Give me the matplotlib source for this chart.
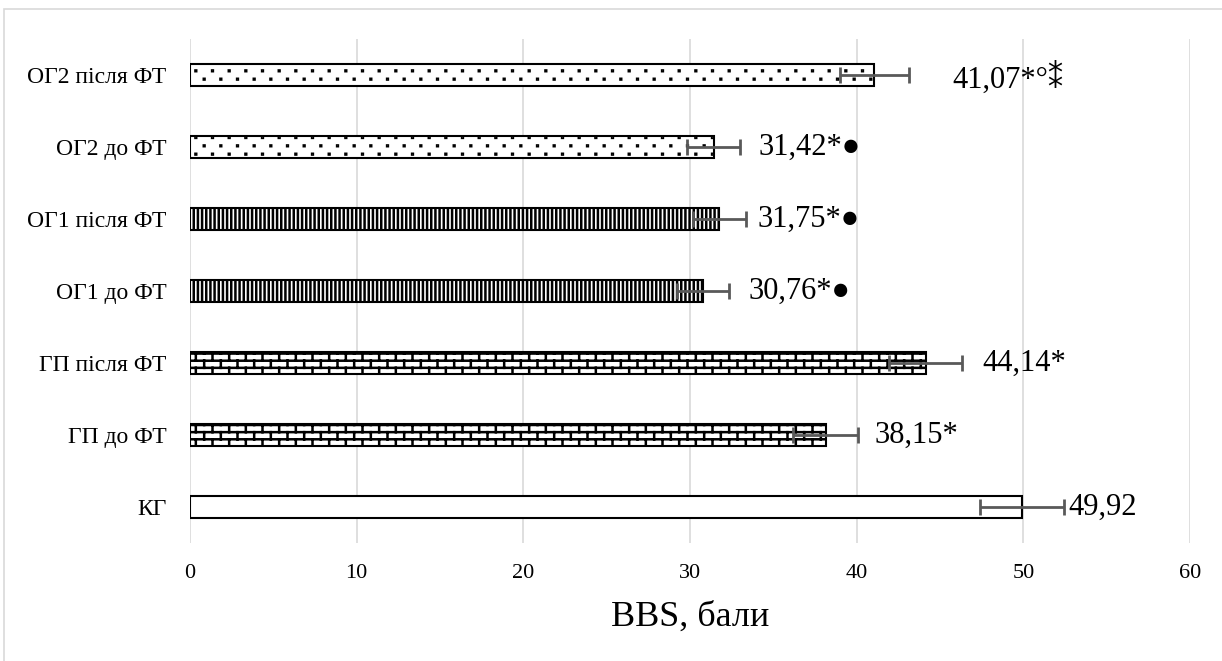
import warnings
import numpy as np
import matplotlib
matplotlib.use('Agg')
import matplotlib.pyplot as plt
import matplotlib.hatch as mhatch
from matplotlib.path import Path
from matplotlib.patches import Rectangle

warnings.filterwarnings('ignore')

# data, top to bottom as in the chart
groups = ['ОГ2 після ФТ', 'ОГ2 до ФТ', 'ОГ1 після ФТ', 'ОГ1 до ФТ',
          'ГП після ФТ', 'ГП до ФТ', 'КГ']
bbs = [41.07, 31.42, 31.75, 30.76, 44.14, 38.15, 49.92]
err = [2.05, 1.6, 1.6, 1.55, 2.2, 1.95, 2.5]
marks = ['41,07*°⁑', '31,42*●', '31,75*●', '30,76*●', '44,14*', '38,15*', '49,92']

# layout: gap between error bar end and the value label (data units)
label_gap = [2.65, 1.1, 0.7, 1.2, 1.2, 1.0, 0.3]
label_dy = [-0.05, 0, 0, 0, 0, 0, 0]
hatches = ['d', 'd', '||||', '||||', 'b', 'b', '']


# brick fill, the way the spreadsheet draws it
class BrickHatch(mhatch.HatchPatternBase):
    def __init__(self, hatch, density):
        self.rows = 14 * hatch.count('b')
        self.cols = 6
        self.num_lines = self.rows * (1 + self.cols)
        self.num_vertices = 2 * self.num_lines

    def set_vertices_and_codes(self, vertices, codes):
        h = 1.0 / self.rows
        w = 1.0 / self.cols
        i = 0
        for k in range(self.rows):
            y0 = k * h + h / 2
            vertices[i] = (0.0, y0)
            vertices[i + 1] = (1.0, y0)
            i += 2
            for j in range(self.cols):
                x = (j + 0.25 + 0.5 * (k % 2)) * w
                vertices[i] = (x, y0)
                vertices[i + 1] = (x, y0 + h)
                i += 2
        codes[0::2] = Path.MOVETO
        codes[1::2] = Path.LINETO


# sparse small dots in staggered rows
class DotHatch(mhatch.HatchPatternBase):
    def __init__(self, hatch, density):
        self.rows = 12 * hatch.count('d')
        self.cols = 6
        sq = Path.unit_rectangle()
        self.shape_vertices = sq.vertices
        self.shape_codes = sq.codes
        self.num_vertices = self.rows * self.cols * len(sq.vertices)

    def set_vertices_and_codes(self, vertices, codes):
        nv = len(self.shape_vertices)
        s = 0.008
        i = 0
        for k in range(self.rows):
            for j in range(self.cols):
                x = (j + 0.25 + 0.5 * (k % 2)) / self.cols
                y = (k + 0.5) / self.rows
                vertices[i:i + nv] = (self.shape_vertices - 0.5) * s + (x, y)
                codes[i:i + nv] = self.shape_codes
                i += nv


mhatch._hatch_types.append(BrickHatch)
mhatch._hatch_types.append(DotHatch)

plt.rcParams['font.family'] = ['Liberation Serif', 'DejaVu Sans']
plt.rcParams['hatch.linewidth'] = 1.8

fig = plt.figure(figsize=(12.22, 6.61), dpi=100)
ax = fig.add_axes([0.1555, 0.1785, 0.8183, 0.7625])

n = len(groups)
ypos = np.arange(n)[::-1]

for y, v, h in zip(ypos, bbs, hatches):
    ax.barh(y, v, height=0.31, color='white', edgecolor='black',
            linewidth=1.5, hatch=h, zorder=3)
ax.errorbar(bbs, ypos, xerr=err, fmt='none', ecolor='#595959',
            elinewidth=2, capsize=6, capthick=2, zorder=4)

for y, v, e, g, dy, t in zip(ypos, bbs, err, label_gap, label_dy, marks):
    ax.text(v + e + g, y + dy, t, fontsize=22, va='center', ha='left',
            family=['Liberation Serif', 'DejaVu Sans'], zorder=5)

ax.set_xlim(0, 60)
ax.set_ylim(-0.5, n - 0.5)
ax.set_xticks(range(0, 61, 10))
ax.set_yticks(ypos)
ax.set_yticklabels(groups, fontsize=17)
ax.tick_params(axis='x', labelsize=16, length=0, pad=15)
ax.tick_params(axis='y', length=0, pad=17)
ax.grid(axis='x', color='#d9d9d9', linewidth=1.2, zorder=0)
for s in ax.spines.values():
    s.set_visible(False)
ax.set_xlabel('BBS, бали', fontsize=26, labelpad=13)

fig.add_artist(Rectangle((4 / 1222, -0.1), 1.2, 1 - 9 / 661 + 0.1,
                         transform=fig.transFigure, fill=False,
                         edgecolor='#d9d9d9', linewidth=1.2))

fig.savefig('out.png', dpi=100)
